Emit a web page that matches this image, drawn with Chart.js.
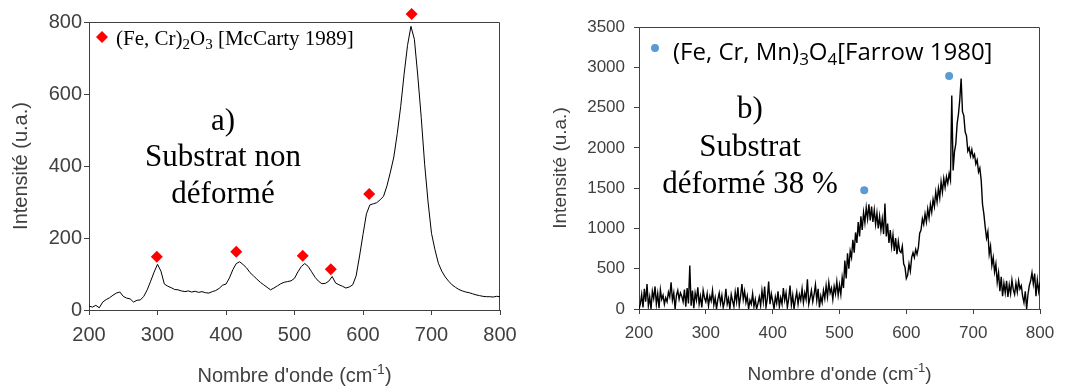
<!DOCTYPE html>
<html>
<head>
<meta charset="utf-8">
<script src="https://cdn.jsdelivr.net/npm/chart.js@4"></script>
<style>
  html, body { margin: 0; padding: 0; background: #fff; }
  #wrap { position: relative; width: 1065px; height: 389px; overflow: hidden; }
  canvas { position: absolute; top: 0; }
  #chartA { left: 0; }
  #chartB { left: 540px; }
</style>
</head>
<body>
<div id="wrap">
  <canvas id="chartA" width="530" height="389"></canvas>
  <canvas id="chartB" width="525" height="389"></canvas>
</div>
<script>
// wavenumber axis (cm-1)
const waveStart = 200;
const xTickValues = [200, 300, 400, 500, 600, 700, 800];

// a) substrat non deforme, one value every 5 cm-1 from 200 to 800
const stepA = 5;
const intensityA = [
  11, 8, 13, 6, 22, 29, 34, 41, 47, 50,
  38, 33, 31, 22, 27, 28, 38, 56, 80, 105,
  127, 108, 72, 66, 62, 57, 56, 53, 51, 53,
  50, 52, 49, 51, 48, 47, 51, 54, 60, 69,
  72, 89, 112, 129, 134, 126, 117, 104, 95, 86,
  77, 70, 63, 56, 61, 67, 73, 77, 79, 81,
  88, 106, 121, 129, 121, 106, 91, 80, 73, 74,
  80, 93, 75, 70, 66, 61, 64, 70, 95, 150,
  210, 267, 292, 295, 298, 306, 316, 345, 383, 425,
  490, 565, 655, 735, 788, 752, 650, 535, 405, 300,
  213, 168, 130, 108, 92, 80, 70, 63, 57, 53,
  50, 48, 45, 42, 40, 38, 37, 37, 36, 38,
  37
];
const yTicksA = [0, 200, 400, 600, 800];
const peakWaveA = [299, 415, 512, 553, 609, 671];
const peakIntA = [148, 162, 151, 113, 322, 822];

// b) substrat deforme 38 %, one value every 2 cm-1 from 200 to 800
const stepB = 2;
const intensityB = [
  0, 60, 180, 20, 250, 90, 310, 40, 150, 0,
  220, 130, 280, 60, 190, 10, 240, 120, 170, 60,
  140, 90, 210, 150, 330, 110, 200, 0, 170, 230,
  120, 200, 160, 90, 240, 30, 260, 70, 540, 40,
  230, 10, 200, 110, 270, 60, 160, 20, 230, 140,
  90, 190, 40, 160, 100, 230, 50, 140, 0, 120,
  200, 70, 170, 20, 90, 250, 60, 130, 0, 180,
  100, 30, 210, 90, 270, 40, 160, 310, 120, 220,
  80, 160, 0, 110, 60, 190, 30, 120, 0, 70,
  150, 40, 230, 90, 280, 20, 130, 340, 60, 190,
  100, 0, 150, 70, 220, 30, 140, 60, 260, 110,
  200, 20, 130, 290, 50, 170, 0, 120, 210, 60,
  180, 110, 250, 80, 200, 120, 370, 60, 140, 230,
  90, 180, 300, 110, 250, 20, 160, 80, 230, 130,
  290, 150, 330, 200, 260, 120, 280, 190, 340, 170,
  300, 180, 390, 260, 600, 380, 690, 500, 720, 640,
  860, 700, 950, 820, 1080, 900, 1150, 980, 1200, 1070,
  1260, 1120, 1300, 1100, 1270, 1080, 1230, 1050, 1190, 1000,
  1150, 980, 1120, 930, 1310, 900, 1060, 820, 980, 780,
  920, 720, 880, 680, 840, 720, 700, 780, 560, 520,
  380, 420, 560, 470, 640, 700, 640, 740, 680, 760,
  940, 980, 1120, 1050, 1180, 1080, 1240, 1130, 1300, 1200,
  1360, 1270, 1450, 1330, 1500, 1380, 1580, 1450, 1620, 1510,
  1640, 1560, 1680, 1600, 2650, 1720, 1950, 2050, 2300, 2420,
  2600, 2860, 2450, 2400, 2200, 2150, 1960, 2000, 1900, 1980,
  1880, 1920, 1800, 1850, 1700, 1750, 1600, 1300, 1180, 1020,
  880, 960, 680, 780, 540, 640, 460, 560, 330, 450,
  220, 400, 160, 320, 200, 350, 150, 300, 190, 360,
  240, 180, 320, 210, 350, 250, 290, 160, 80, 220,
  0, 180, 290, 350, 450, 310, 440, 160, 360, 220,
  330
];
const yTicksB = [0, 500, 1000, 1500, 2000, 2500, 3000, 3500];
const peakWaveB = [537, 664];
const peakIntB = [1473, 2892];

const axisColor = '#404040';

function toPoints(start, step, values) {
  return values.map((y, i) => ({ x: start + i * step, y: y }));
}

// text with sub/superscripts: runs = [[text, 'sub' | 'sup' | ''], ...]
function runsWidth(ctx, runs, size, family) {
  let w = 0;
  for (const [t, k] of runs) {
    ctx.font = (k ? Math.round(size * 0.7) : size) + 'px ' + family;
    w += ctx.measureText(t).width;
  }
  return w;
}
function drawRuns(ctx, x, y, runs, size, family, color) {
  ctx.textAlign = 'left';
  ctx.textBaseline = 'alphabetic';
  ctx.fillStyle = color;
  for (const [t, k] of runs) {
    const s = k ? Math.round(size * 0.7) : size;
    ctx.font = s + 'px ' + family;
    const dy = k === 'sub' ? size * 0.2 : k === 'sup' ? -size * 0.4 : 0;
    ctx.fillText(t, x, y + dy);
    x += ctx.measureText(t).width;
  }
}

const framePlugin = {
  id: 'frame',
  beforeDatasetsDraw(chart) {
    const a = chart.chartArea, ctx = chart.ctx;
    ctx.save();
    ctx.strokeStyle = axisColor;
    ctx.lineWidth = 1;
    ctx.beginPath();
    ctx.moveTo(a.left, a.top + 0.5);
    ctx.lineTo(a.right - 0.5, a.top + 0.5);
    ctx.lineTo(a.right - 0.5, a.bottom);
    ctx.stroke();
    ctx.restore();
  }
};

function makeChart(id, o) {
  const ctx = document.getElementById(id).getContext('2d');
  return new Chart(ctx, {
    type: 'scatter',
    data: {
      datasets: [{
        data: o.line,
        showLine: true,
        borderColor: '#000',
        borderWidth: o.lineWidth,
        pointRadius: 0,
        tension: 0
      }]
    },
    options: {
      responsive: false,
      animation: false,
      events: [],
      layout: { padding: { top: o.top, right: o.right, bottom: 0, left: 0 } },
      plugins: { legend: { display: false }, tooltip: { enabled: false } },
      scales: {
        x: {
          type: 'linear', min: 200, max: 800,
          afterBuildTicks: s => { s.ticks = xTickValues.map(v => ({ value: v })); },
          afterFit: s => { s.height = 389 - o.bottom; },
          border: { color: axisColor, width: 1 },
          grid: { drawOnChartArea: false, tickLength: 5, color: axisColor },
          ticks: { color: axisColor, font: { family: 'Liberation Sans', size: o.tickSize }, padding: o.xPad, maxRotation: 0, callback: v => String(v) }
        },
        y: {
          type: 'linear', min: 0, max: o.yMax,
          afterBuildTicks: s => { s.ticks = o.yTicks.map(v => ({ value: v })); },
          afterFit: s => { s.width = o.left; },
          border: { color: axisColor, width: 1 },
          grid: { drawOnChartArea: false, tickLength: 5, color: axisColor },
          ticks: { color: axisColor, font: { family: 'Liberation Sans', size: o.tickSize }, padding: o.yPad, callback: v => String(v) },
          title: { display: true, text: 'Intensité (u.a.)', color: axisColor,
                   font: { family: 'Liberation Sans', size: o.titleSize }, padding: { top: o.yTitlePad, bottom: 0 } }
        }
      }
    },
    plugins: [framePlugin, {
      id: 'notes',
      afterDraw: chart => {
        const c = chart.ctx, a = chart.chartArea;
        const sx = chart.scales.x, sy = chart.scales.y;
        c.save();
        // reference peak markers
        c.fillStyle = o.markerColor;
        o.peakX.forEach((v, i) => {
          const px = sx.getPixelForValue(v), py = sy.getPixelForValue(o.peakY[i]);
          c.beginPath();
          if (o.diamond) {
            c.moveTo(px, py - 6); c.lineTo(px + 6, py); c.lineTo(px, py + 6); c.lineTo(px - 6, py);
            c.closePath();
          } else {
            c.arc(px, py, 4, 0, Math.PI * 2);
          }
          c.fill();
        });
        // x axis title with superscript
        const runs = [["Nombre d'onde (cm", ''], ['-1', 'sup'], [')', '']];
        const w = runsWidth(c, runs, o.titleSize, 'Liberation Sans');
        drawRuns(c, (a.left + a.right) / 2 - w / 2, o.xTitleY, runs, o.titleSize, 'Liberation Sans', axisColor);
        o.notes(c);
        c.restore();
      }
    }]
  });
}

makeChart('chartA', {
  line: toPoints(waveStart, stepA, intensityA),
  peakX: peakWaveA, peakY: peakIntA, diamond: true, markerColor: '#ff0000', lineWidth: 1,
  yMax: 800, yTicks: yTicksA,
  top: 22, right: 30, bottom: 310, left: 89,
  tickSize: 20, titleSize: 20, xPad: 8, yPad: 2, yTitlePad: 9, xTitleY: 382,
  notes: ctx => {
    ctx.fillStyle = '#ff0000';
    ctx.beginPath();
    ctx.moveTo(102, 31); ctx.lineTo(108, 37); ctx.lineTo(102, 43); ctx.lineTo(96, 37);
    ctx.closePath(); ctx.fill();
    drawRuns(ctx, 116, 45, [['(Fe, Cr)', ''], ['2', 'sub'], ['O', ''], ['3', 'sub'], [' [McCarty 1989]', '']],
             21, 'Liberation Serif', '#000');
    ctx.font = '31px Liberation Serif';
    ctx.textAlign = 'center';
    ctx.textBaseline = 'middle';
    ctx.fillStyle = '#000';
    ctx.fillText('a)', 223, 122);
    ctx.fillText('Substrat non', 223, 158);
    ctx.fillText('déformé', 223, 195);
  }
});

makeChart('chartB', {
  line: toPoints(waveStart, stepB, intensityB),
  peakX: peakWaveB, peakY: peakIntB, diamond: false, markerColor: '#5b9bd5', lineWidth: 1.4,
  yMax: 3500, yTicks: yTicksB,
  top: 27, right: 25, bottom: 309, left: 99,
  tickSize: 17, titleSize: 19, xPad: 9, yPad: 9, yTitlePad: 9, xTitleY: 380,
  notes: ctx => {
    ctx.fillStyle = '#5b9bd5';
    ctx.beginPath();
    ctx.arc(115, 48, 4, 0, Math.PI * 2);
    ctx.fill();
    drawRuns(ctx, 133, 60, [['(Fe, Cr, Mn)', ''], ['3', 'sub'], ['O', ''], ['4', 'sub'], ['[Farrow 1980]', '']],
             24, 'Open Sans', '#000');
    ctx.font = '31px Liberation Serif';
    ctx.textAlign = 'center';
    ctx.textBaseline = 'middle';
    ctx.fillStyle = '#000';
    ctx.fillText('b)', 210, 110);
    ctx.fillText('Substrat', 210, 148);
    ctx.fillText('déformé 38 %', 210, 185);
  }
});
</script>
</body>
</html>
